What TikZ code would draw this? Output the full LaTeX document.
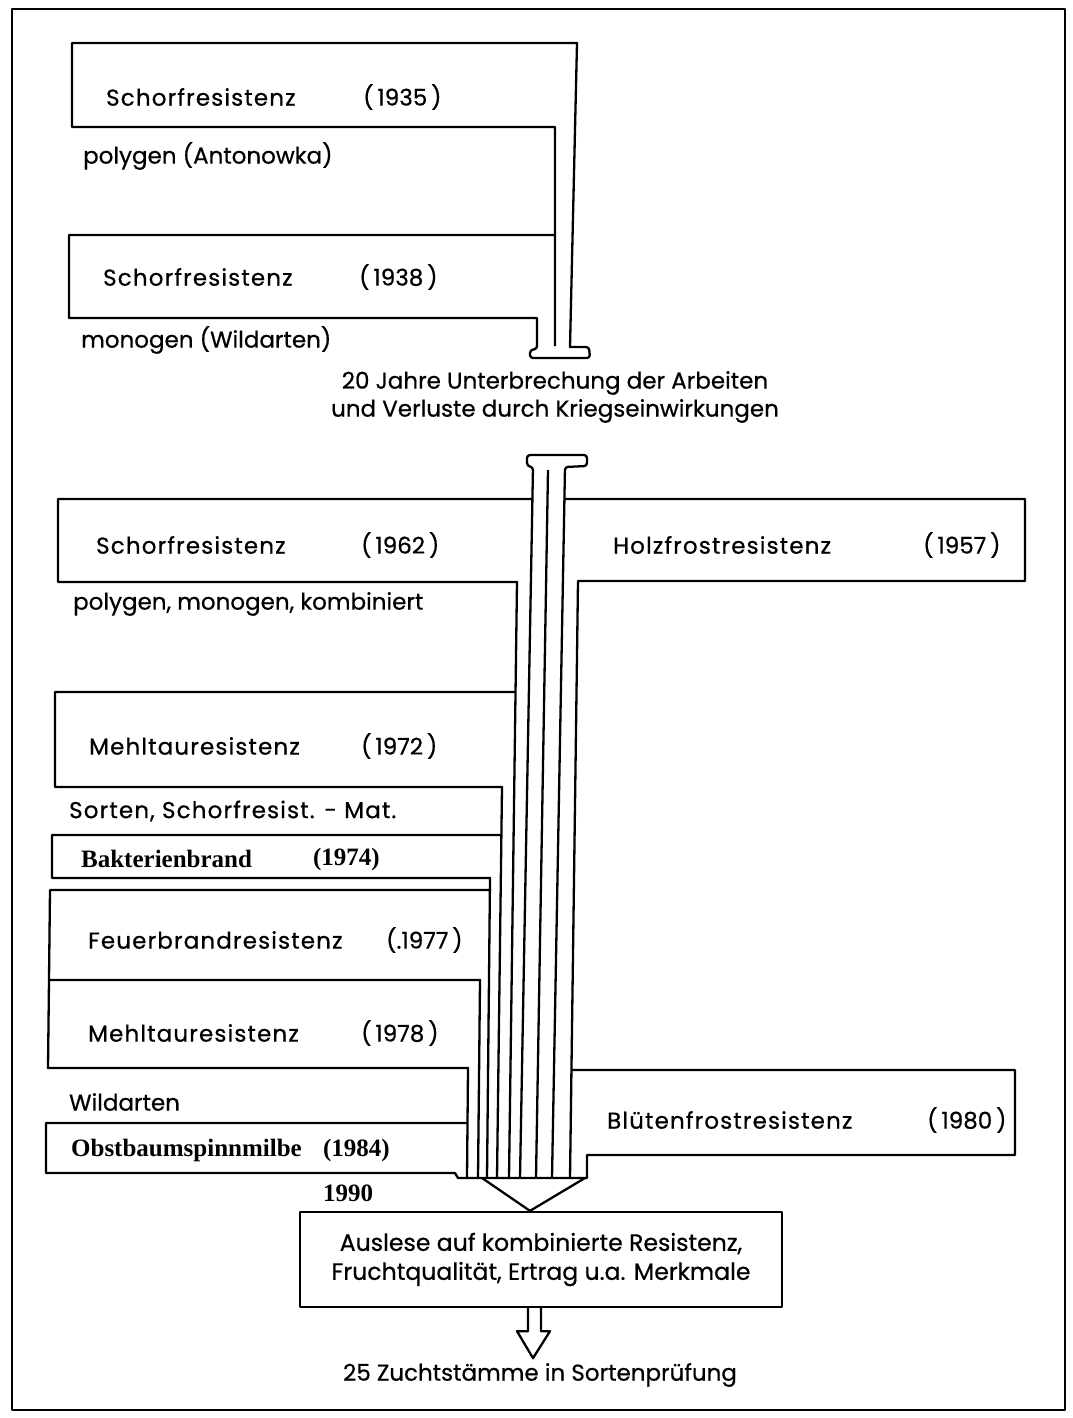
\documentclass[tikz,border=0pt]{standalone}
\usepackage{fontspec}
\setmainfont{Poppins}[FakeBold=0.6]
\newfontfamily\widefont{Poppins}[FakeBold=0.6,LetterSpace=5]
\newfontfamily\tmsfont{Liberation Serif}
\usetikzlibrary{calc}
\begin{document}
\begin{tikzpicture}[x=0.5pt,y=-0.5pt,line width=1.15pt,line join=round,
  lbl/.style={anchor=west,inner sep=0pt,font=\fontsize{11.5}{14}\selectfont},
  wlbl/.style={anchor=west,inner sep=0pt,font=\widefont\fontsize{11.5}{14}\selectfont},
  ctr/.style={anchor=center,inner sep=0pt,align=center,font=\fontsize{11.5}{14}\selectfont},
  tms/.style={anchor=west,inner sep=0pt,font=\tmsfont\bfseries\fontsize{12.5}{14}\selectfont},
  boxnode/.style={draw,inner sep=0pt,align=center,font=\fontsize{11.8}{14.5}\selectfont}]
\useasboundingbox (0,0) rectangle (1072,1418);
% outer frame
\draw (12,9) rectangle (1065,1410);

% ---------- top: 1935 / 1938 pipes ----------
\draw (555,346) -- (555,127) -- (72,127) -- (72,43) -- (577,43) -- (570,347)
  [rounded corners=1.5pt] -- (589,347) -- (590,358) -- (530,358) -- (530,350) -- (537,349)
  [sharp corners] -- (537,318) -- (69,318) -- (69,235) -- (555,235);

\node[wlbl] (s35) at (105,97) {Schorfresistenz};
\node[lbl] (y35) at (362,97) {(\,1935\,)};
\node[lbl] (p35) at (82,156) {polygen (Antonowka)};
\node[wlbl] (s38) at (102,277) {Schorfresistenz};
\node[lbl] (y38) at (358,277) {(\,1938\,)};
\node[lbl] (m38) at (80,340) {monogen (Wildarten)};

\node[ctr] (gap) at (555,397) {20 Jahre Unterbrechung der Arbeiten\\und Verluste durch Kriegseinwirkungen};

% ---------- lower head and main walls ----------
\draw [rounded corners=1.5pt] (520,1178) -- (533,467) -- (527,466) -- (527,455) -- (587,455)
  -- (587,466) -- (565,467) [sharp corners] -- (552,1178);
\draw (548,470) -- (536,1178);

% 1962
\draw (532.4,499) -- (58,499) -- (58,582) -- (517,582) -- (509,1178);
% 1957 Holzfrost
\draw (564.4,499) -- (1025,499) -- (1025,581) -- (578,581) -- (570,1178);
% 1972
\draw (515.5,692) -- (55,692) -- (55,787) -- (502,787) -- (497,1178);
% 1974
\draw (501.4,835) -- (52,835) -- (52,878) -- (490,878) -- (487,1178);
% 1977
\draw (489.9,890) -- (50,890) -- (49,980) -- (480,980) -- (478,1178);
% 1978
\draw (49,980) -- (48,1068) -- (468,1068) -- (467,1178);
% 1984 + base + 1980
\draw (467.5,1123) -- (46,1123) -- (46,1173) -- (455,1173) -- (458,1178) -- (587,1178)
  -- (587,1155) -- (1015,1155) -- (1015,1070) -- (571.4,1070);

\node[wlbl] (s62) at (95,545) {Schorfresistenz};
\node[lbl] (y62) at (360,545) {(\,1962\,)};
\node[wlbl] (h57) at (612,545) {Holzfrostresistenz};
\node[lbl] (y57) at (922,545) {(\,1957\,)};
\node[lbl] (p62) at (72,604) {polygen, monogen, kombiniert};
\node[wlbl] (m72) at (88,746) {Mehltauresistenz};
\node[lbl] (y72) at (360,746) {(\,1972\,)};
\node[wlbl] (s72) at (68,811) {Sorten, Schorfresist. - Mat.};
\node[tms] (b74) at (80,859) {Bakterienbrand};
\node[tms] (y74) at (312,859) {(1974)};
\node[wlbl] (f77) at (87,940) {Feuerbrandresistenz};
\node[lbl] (y77) at (385,940) {(.1977\,)};
\node[wlbl] (m78) at (87,1033) {Mehltauresistenz};
\node[lbl] (y78) at (360,1033) {(\,1978\,)};
\node[lbl] (w78) at (68,1102) {Wildarten};
\node[wlbl] (b80) at (606,1120) {Blütenfrostresistenz};
\node[lbl] (y80) at (926,1120) {(\,1980\,)};
\node[tms] (o84) at (70,1150) {Obstbaumspinnmilbe};
\node[tms] (y84) at (322,1150) {(1984)};
\node[tms] (y90) at (322,1193) {1990};

% ---------- result box ----------
\node[boxnode,minimum width=241pt,minimum height=47.5pt] (aus) at (541,1259.5)
  {Auslese auf kombinierte Resistenz,\\Fruchtqualität, Ertrag u.a. Merkmale};
\draw (482,1178) -- ([xshift=-5.5pt]aus.north) -- (585,1178);

\node[ctr] (zucht) at (540,1375) {25 Zuchtstämme in Sortenprüfung};
\draw ([xshift=-6.5pt]aus.south) -- ++(0,23) -- ++(-11,0) -- ($(aus.south)+(-8,50)$)
  -- ($(aus.south)+(9,23)$) -- ($(aus.south)+(0,23)$) -- (aus.south);
\end{tikzpicture}
\end{document}
